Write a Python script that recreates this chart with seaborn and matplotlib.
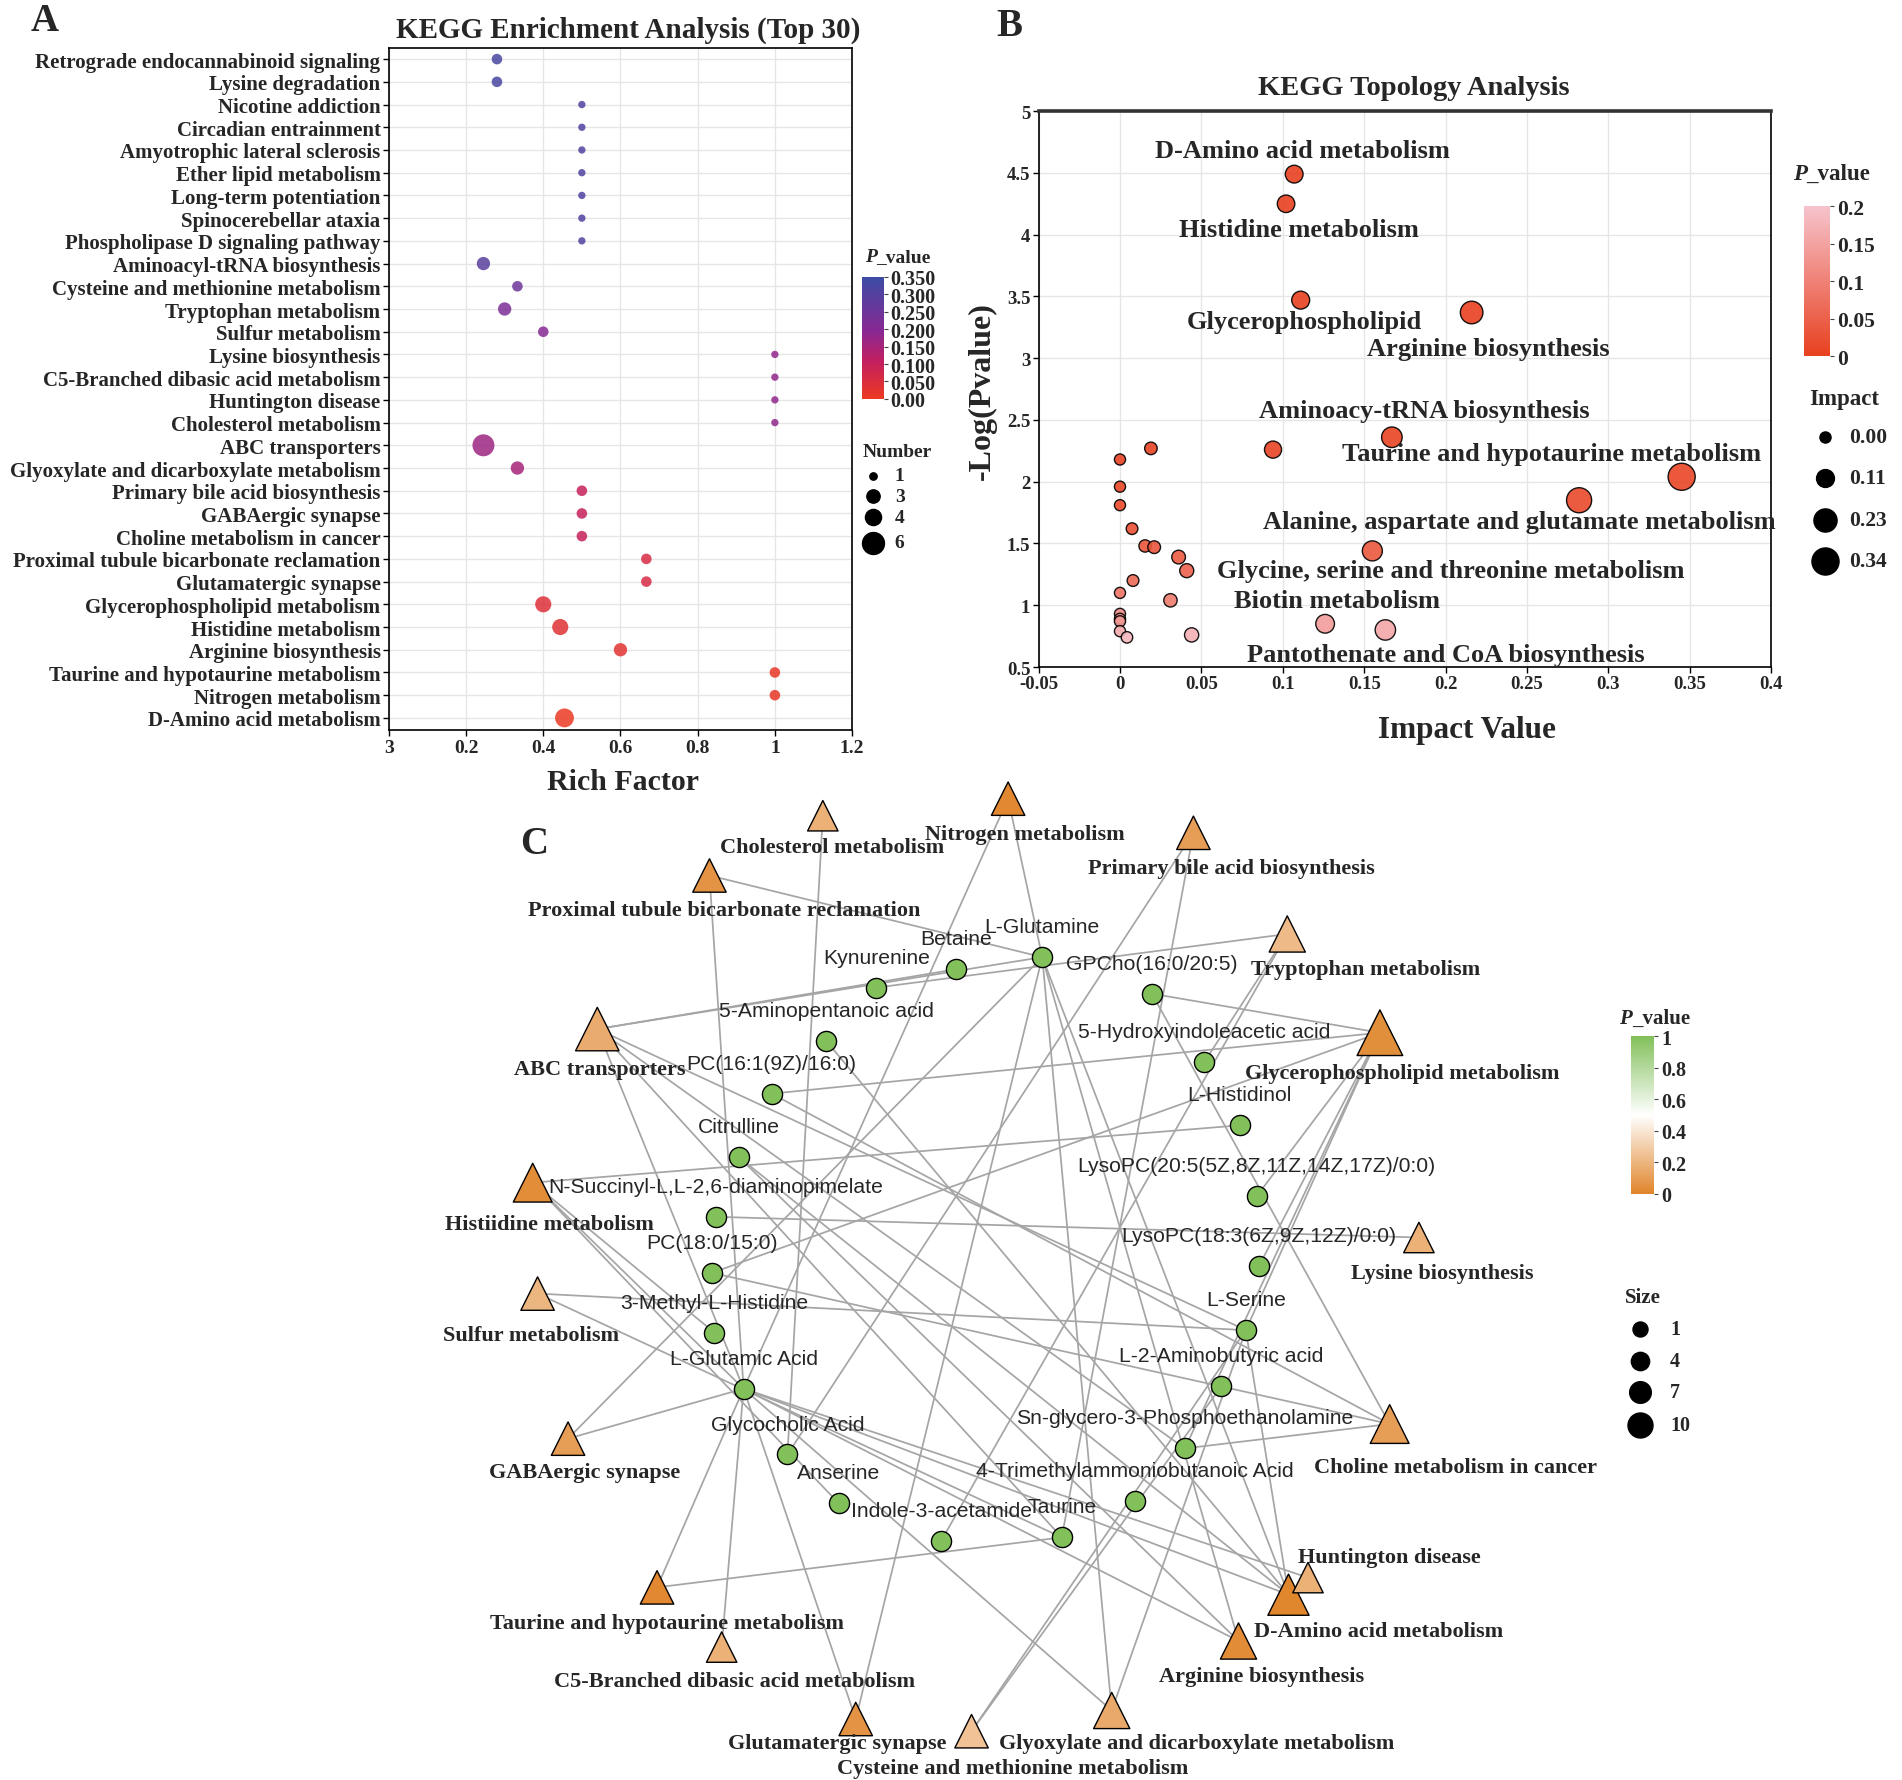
import numpy as np
import pandas as pd
import seaborn as sns
import matplotlib.pyplot as plt
from matplotlib.colors import LinearSegmentedColormap, Normalize
from matplotlib.cm import ScalarMappable

# ---------------- A: KEGG enrichment analysis (top 30), top to bottom ----------------
kegg_pathways = [
    "Retrograde endocannabinoid signaling", "Lysine degradation", "Nicotine addiction",
    "Circadian entrainment", "Amyotrophic lateral sclerosis", "Ether lipid metabolism",
    "Long-term potentiation", "Spinocerebellar ataxia", "Phospholipase D signaling pathway",
    "Aminoacyl-tRNA biosynthesis", "Cysteine and methionine metabolism", "Tryptophan metabolism",
    "Sulfur metabolism", "Lysine biosynthesis", "C5-Branched dibasic acid metabolism",
    "Huntington disease", "Cholesterol metabolism", "ABC transporters",
    "Glyoxylate and dicarboxylate metabolism", "Primary bile acid biosynthesis", "GABAergic synapse",
    "Choline metabolism in cancer", "Proximal tubule bicarbonate reclamation", "Glutamatergic synapse",
    "Glycerophospholipid metabolism", "Histidine metabolism", "Arginine biosynthesis",
    "Taurine and hypotaurine metabolism", "Nitrogen metabolism", "D-Amino acid metabolism",
]
rich_factor = [0.28, 0.28, 0.5, 0.5, 0.5, 0.5, 0.5, 0.5, 0.5,
               0.245, 0.333, 0.30, 0.40, 1.0, 1.0, 1.0, 1.0, 0.245,
               0.333, 0.5, 0.5, 0.5, 0.667, 0.667, 0.40, 0.444, 0.60,
               1.0, 1.0, 0.455]
kegg_pvalue = [0.32, 0.32, 0.31, 0.31, 0.31, 0.31, 0.31, 0.31, 0.31,
               0.29, 0.25, 0.22, 0.20, 0.18, 0.18, 0.18, 0.18, 0.165,
               0.15, 0.10, 0.10, 0.10, 0.06, 0.06, 0.04, 0.035, 0.03,
               0.012, 0.012, 0.005]
kegg_number = [2, 2, 1, 1, 1, 1, 1, 1, 1,
               3, 2, 3, 2, 1, 1, 1, 1, 6,
               3, 2, 2, 2, 2, 2, 4, 4, 3,
               2, 2, 5]
number_levels = [1, 3, 4, 6]
cbar_a_ticks = [0, 0.05, 0.10, 0.15, 0.20, 0.25, 0.30, 0.35]
cbar_a_labels = ["0.00", "0.050", "0.100", "0.150", "0.200", "0.250", "0.300", "0.350"]
rich_ticks = [0, 0.2, 0.4, 0.6, 0.8, 1.0, 1.2]
rich_tick_labels = ["3", "0.2", "0.4", "0.6", "0.8", "1", "1.2"]

# ---------------- B: KEGG topology analysis ----------------
impact = [0.107, 0.102, 0.111, 0.216, 0.167, 0.094, 0.345, 0.282, 0.155, 0.126, 0.163,
          0.019, 0.0, 0.0, 0.0, 0.0074, 0.0154, 0.021, 0.036, 0.041, 0.044,
          0.008, 0.0, 0.031, 0.0, 0.0, 0.0, 0.0, 0.0043]
neg_log_p = [4.49, 4.25, 3.47, 3.37, 2.36, 2.26, 2.04, 1.85, 1.44, 0.85, 0.80,
             2.27, 2.18, 1.96, 1.81, 1.62, 1.48, 1.47, 1.39, 1.28, 0.76,
             1.20, 1.10, 1.04, 0.93, 0.89, 0.87, 0.79, 0.74]
topo_labels = ["D-Amino acid metabolism", "Histidine metabolism", "Glycerophospholipid",
               "Arginine biosynthesis", "Aminoacy-tRNA biosynthesis",
               "Taurine and hypotaurine metabolism", "Alanine, aspartate and glutamate metabolism",
               "Glycine, serine and threonine metabolism", "Biotin metabolism",
               "Pantothenate and CoA biosynthesis"]
impact_levels = [0.00, 0.11, 0.23, 0.34]
impact_ticks = [-0.05, 0, 0.05, 0.1, 0.15, 0.2, 0.25, 0.3, 0.35, 0.4]
impact_tick_labels = ["-0.05", "0", "0.05", "0.1", "0.15", "0.2", "0.25", "0.3", "0.35", "0.4"]
nlp_ticks = [0.5, 1, 1.5, 2, 2.5, 3, 3.5, 4, 4.5, 5]
nlp_tick_labels = ["0.5", "1", "1.5", "2", "2.5", "3", "3.5", "4", "4.5", "5"]
cbar_b_ticks = [0, 0.05, 0.1, 0.15, 0.2]
cbar_b_labels = ["0", "0.05", "0.1", "0.15", "0.2"]

# ---------------- C: pathway - metabolite network ----------------
net_pathways = [
    "Cholesterol metabolism", "Nitrogen metabolism", "Primary bile acid biosynthesis",
    "Proximal tubule bicarbonate reclamation", "Tryptophan metabolism", "ABC transporters",
    "Glycerophospholipid metabolism", "Histiidine metabolism", "Lysine biosynthesis",
    "Sulfur metabolism", "GABAergic synapse", "Choline metabolism in cancer",
    "D-Amino acid metabolism", "Huntington disease", "Taurine and hypotaurine metabolism",
    "Arginine biosynthesis", "C5-Branched dibasic acid metabolism", "Glutamatergic synapse",
    "Cysteine and methionine metabolism", "Glyoxylate and dicarboxylate metabolism",
]
net_pathway_p = [0.18, 0.012, 0.10, 0.06, 0.22, 0.16, 0.04, 0.035, 0.18, 0.20,
                 0.10, 0.10, 0.005, 0.18, 0.012, 0.03, 0.18, 0.06, 0.25, 0.15]
net_metabolites = [
    "L-Glutamine", "Betaine", "Kynurenine", "GPCho(16:0/20:5)", "5-Aminopentanoic acid",
    "5-Hydroxyindoleacetic acid", "PC(16:1(9Z)/16:0)", "L-Histidinol", "Citrulline",
    "N-Succinyl-L,L-2,6-diaminopimelate", "LysoPC(20:5(5Z,8Z,11Z,14Z,17Z)/0:0)", "PC(18:0/15:0)",
    "LysoPC(18:3(6Z,9Z,12Z)/0:0)", "3-Methyl-L-Histidine", "L-Serine", "L-Glutamic Acid",
    "L-2-Aminobutyric acid", "Glycocholic Acid", "Sn-glycero-3-Phosphoethanolamine", "Anserine",
    "4-Trimethylammoniobutanoic Acid", "Indole-3-acetamide", "Taurine",
]
net_metabolite_p = 1.0
links = {
    "L-Glutamine": ["Nitrogen metabolism", "D-Amino acid metabolism", "Glutamatergic synapse",
                    "GABAergic synapse", "Arginine biosynthesis",
                    "Proximal tubule bicarbonate reclamation",
                    "Glyoxylate and dicarboxylate metabolism", "ABC transporters"],
    "L-Glutamic Acid": ["Nitrogen metabolism", "D-Amino acid metabolism", "Glutamatergic synapse",
                        "GABAergic synapse", "Arginine biosynthesis",
                        "Proximal tubule bicarbonate reclamation",
                        "Glyoxylate and dicarboxylate metabolism", "ABC transporters",
                        "Taurine and hypotaurine metabolism", "Histiidine metabolism",
                        "C5-Branched dibasic acid metabolism", "Huntington disease"],
    "Betaine": ["ABC transporters"],
    "Kynurenine": ["Tryptophan metabolism"],
    "GPCho(16:0/20:5)": ["Glycerophospholipid metabolism", "Choline metabolism in cancer"],
    "5-Aminopentanoic acid": ["D-Amino acid metabolism"],
    "5-Hydroxyindoleacetic acid": ["Tryptophan metabolism"],
    "PC(16:1(9Z)/16:0)": ["Glycerophospholipid metabolism", "Choline metabolism in cancer"],
    "L-Histidinol": ["Histiidine metabolism"],
    "Citrulline": ["Arginine biosynthesis", "D-Amino acid metabolism"],
    "N-Succinyl-L,L-2,6-diaminopimelate": ["Lysine biosynthesis"],
    "LysoPC(20:5(5Z,8Z,11Z,14Z,17Z)/0:0)": ["Glycerophospholipid metabolism"],
    "PC(18:0/15:0)": ["Glycerophospholipid metabolism", "Choline metabolism in cancer"],
    "LysoPC(18:3(6Z,9Z,12Z)/0:0)": ["Glycerophospholipid metabolism"],
    "3-Methyl-L-Histidine": ["Histiidine metabolism"],
    "L-Serine": ["D-Amino acid metabolism", "Glycerophospholipid metabolism", "Sulfur metabolism",
                 "Cysteine and methionine metabolism", "Glyoxylate and dicarboxylate metabolism",
                 "ABC transporters"],
    "L-2-Aminobutyric acid": ["Cysteine and methionine metabolism"],
    "Glycocholic Acid": ["Primary bile acid biosynthesis", "Cholesterol metabolism"],
    "Sn-glycero-3-Phosphoethanolamine": ["Glycerophospholipid metabolism",
                                         "Choline metabolism in cancer", "ABC transporters"],
    "Anserine": ["Histiidine metabolism"],
    "Indole-3-acetamide": ["Tryptophan metabolism"],
    "Taurine": ["Taurine and hypotaurine metabolism", "Primary bile acid biosynthesis",
                "Sulfur metabolism", "ABC transporters"],
}
size_levels = [1, 4, 7, 10]
cbar_c_ticks = [0, 0.2, 0.4, 0.6, 0.8, 1]
cbar_c_labels = ["0", "0.2", "0.4", "0.6", "0.8", "1"]

# ---------------- layout (page units, y downwards) ----------------
W, H = 1902, 1781
WD, HD = W / 1.219, H / 1.219

pathway_xy = {
    "Cholesterol metabolism": (675, 670), "Nitrogen metabolism": (827, 656),
    "Primary bile acid biosynthesis": (979, 684), "Proximal tubule bicarbonate reclamation": (582, 719),
    "Tryptophan metabolism": (1056, 767), "ABC transporters": (490, 845),
    "Glycerophospholipid metabolism": (1132, 848), "Histiidine metabolism": (437, 971),
    "Lysine biosynthesis": (1164, 1016), "Sulfur metabolism": (441, 1062),
    "GABAergic synapse": (466, 1181), "Choline metabolism in cancer": (1140, 1169),
    "D-Amino acid metabolism": (1057, 1309), "Huntington disease": (1073, 1295),
    "Taurine and hypotaurine metabolism": (539, 1303), "Arginine biosynthesis": (1016, 1347),
    "C5-Branched dibasic acid metabolism": (592, 1352), "Glutamatergic synapse": (702, 1411),
    "Cysteine and methionine metabolism": (797, 1421),
    "Glyoxylate and dicarboxylate metabolism": (912, 1404),
}
pathway_label_xy = {
    "Cholesterol metabolism": (683, 696), "Nitrogen metabolism": (841, 685),
    "Primary bile acid biosynthesis": (1010, 713), "Proximal tubule bicarbonate reclamation": (594, 747),
    "Tryptophan metabolism": (1120, 796), "ABC transporters": (492, 878),
    "Glycerophospholipid metabolism": (1150, 881), "Histiidine metabolism": (451, 1005),
    "Lysine biosynthesis": (1183, 1045), "Sulfur metabolism": (436, 1096),
    "GABAergic synapse": (480, 1208), "Choline metabolism in cancer": (1194, 1204),
    "D-Amino acid metabolism": (1131, 1339), "Huntington disease": (1140, 1278),
    "Taurine and hypotaurine metabolism": (547, 1332), "Arginine biosynthesis": (1035, 1376),
    "C5-Branched dibasic acid metabolism": (603, 1380), "Glutamatergic synapse": (687, 1431),
    "Cysteine and methionine metabolism": (831, 1451),
    "Glyoxylate and dicarboxylate metabolism": (982, 1431),
}
metabolite_xy = {
    "L-Glutamine": (855, 786), "Betaine": (784, 796), "Kynurenine": (719, 811),
    "GPCho(16:0/20:5)": (945, 816), "5-Aminopentanoic acid": (678, 855),
    "5-Hydroxyindoleacetic acid": (988, 872), "PC(16:1(9Z)/16:0)": (633, 898),
    "L-Histidinol": (1017, 924), "Citrulline": (606, 950),
    "N-Succinyl-L,L-2,6-diaminopimelate": (587, 999),
    "LysoPC(20:5(5Z,8Z,11Z,14Z,17Z)/0:0)": (1031, 982), "PC(18:0/15:0)": (584, 1045),
    "LysoPC(18:3(6Z,9Z,12Z)/0:0)": (1033, 1039), "3-Methyl-L-Histidine": (586, 1094),
    "L-Serine": (1022, 1092), "L-Glutamic Acid": (610, 1140), "L-2-Aminobutyric acid": (1002, 1138),
    "Glycocholic Acid": (646, 1194), "Sn-glycero-3-Phosphoethanolamine": (972, 1189),
    "Anserine": (688, 1234), "4-Trimethylammoniobutanoic Acid": (931, 1232),
    "Indole-3-acetamide": (772, 1265), "Taurine": (871, 1262),
}


def rect(x0, y0, x1, y1):
    return [x0 / WD, 1 - y1 / HD, (x1 - x0) / WD, (y1 - y0) / HD]


sns.set_theme(style="white")
plt.rcParams["font.family"] = ["Liberation Serif", "DejaVu Serif"]
plt.rcParams["font.weight"] = "bold"
plt.rcParams["axes.labelweight"] = "bold"

fig = plt.figure(figsize=(W / 100, H / 100), dpi=100)
ov = fig.add_axes([0, 0, 1, 1])
ov.axis("off")


def pvalue_title(x, y, size):
    ov.text(x, y, "P", style="italic", ha="right", va="center", size=size)
    ov.text(x, y, "_value", ha="left", va="center", size=size)


# ======================= panel A =======================
df_a = pd.DataFrame({"pathway": kegg_pathways, "rich": rich_factor,
                     "p": kegg_pvalue, "number": kegg_number})
df_a["row"] = np.arange(len(df_a))
cmap_a = LinearSegmentedColormap.from_list(
    "enrich", [(0, "#ec3a20"), (0.3, "#c41f5e"), (0.55, "#8a2893"), (1, "#3b4ca4")])
number_sizes = {1: 28, 2: 58, 3: 92, 4: 135, 5: 185, 6: 250}

ax_a = fig.add_axes(rect(319, 40, 699, 600))
sns.scatterplot(data=df_a, x="rich", y="row", hue="p", palette=cmap_a, hue_norm=(0, 0.35),
                size="number", sizes=number_sizes, alpha=0.85, edgecolor="none",
                legend=False, ax=ax_a, zorder=3)
ax_a.set_xlim(0, 1.2)
ax_a.set_ylim(29.55, -0.5)
ax_a.set_yticks(df_a["row"], df_a["pathway"], fontsize=15)
ax_a.set_xticks(rich_ticks, rich_tick_labels, fontsize=14)
ax_a.set_xlabel("")
ax_a.set_ylabel("")
ax_a.grid(True, color="#e6e6e6", lw=1)
ax_a.set_axisbelow(True)
ax_a.tick_params(bottom=True, left=True, direction="out", length=4, width=1, color="black", pad=2)
for s in ax_a.spines.values():
    s.set_color("black")
    s.set_linewidth(1.2)

ov.text(515, 25, "KEGG Enrichment Analysis (Top 30)", ha="center", va="center", size=21)
ov.text(511, 642, "Rich Factor", ha="center", va="center", size=21.5)
ov.text(37, 18, "A", ha="center", va="center", size=28)

cax_a = fig.add_axes(rect(707, 228, 725, 328))
cb_a = fig.colorbar(ScalarMappable(Normalize(0, 0.35), cmap_a), cax=cax_a)
cb_a.outline.set_visible(False)
cb_a.set_ticks(cbar_a_ticks, labels=cbar_a_labels)
cax_a.tick_params(labelsize=14.5, length=3, width=0.8, color="#444", pad=2)
pvalue_title(719, 211, 14)
ov.text(708, 371, "Number", ha="left", va="center", size=14)
for n, yy in zip(number_levels, [391, 408, 425, 446]):
    ov.scatter(716, yy, s=number_sizes[n], color="black", zorder=3)
    ov.text(734, yy, str(n), ha="left", va="center", size=14)

# ======================= panel B =======================
df_b = pd.DataFrame({"impact": impact, "nlp": neg_log_p})
df_b["p"] = 10 ** (-df_b["nlp"])
cmap_b = LinearSegmentedColormap.from_list("topo", ["#e8401f", "#f6c3cc"])

ax_b = fig.add_axes(rect(852, 92, 1453, 548))
sns.scatterplot(data=df_b, x="impact", y="nlp", hue="p", palette=cmap_b, hue_norm=(0, 0.2),
                size="impact", sizes=(64, 380), size_norm=(0, 0.34), edgecolor="black",
                linewidth=1, alpha=0.9, legend=False, ax=ax_b, zorder=3)
ax_b.set_xlim(-0.05, 0.4)
ax_b.set_ylim(0.5, 5)
ax_b.set_xticks(impact_ticks, impact_tick_labels, fontsize=13.5)
ax_b.set_yticks(nlp_ticks, nlp_tick_labels, fontsize=13.5)
ax_b.set_xlabel("")
ax_b.set_ylabel("")
ax_b.grid(True, color="#e6e6e6", lw=1)
ax_b.set_axisbelow(True)
ax_b.tick_params(bottom=True, left=True, direction="out", length=4, width=1, color="black", pad=2)
for s in ax_b.spines.values():
    s.set_color("black")
    s.set_linewidth(1.2)
ax_b.spines["top"].set_linewidth(2.6)
ax_b.spines["top"].set_color("#333333")

topo_label_xy = {
    "D-Amino acid metabolism": (0.112, 4.68), "Histidine metabolism": (0.110, 4.04),
    "Glycerophospholipid": (0.113, 3.30), "Arginine biosynthesis": (0.226, 3.08),
    "Aminoacy-tRNA biosynthesis": (0.187, 2.58),
    "Taurine and hypotaurine metabolism": (0.265, 2.23),
    "Alanine, aspartate and glutamate metabolism": (0.245, 1.68),
    "Glycine, serine and threonine metabolism": (0.203, 1.28),
    "Biotin metabolism": (0.133, 1.04), "Pantothenate and CoA biosynthesis": (0.200, 0.60),
}
for name in topo_labels:
    lx, ly = topo_label_xy[name]
    ax_b.text(lx, ly, name, ha="center", va="center", size=19, zorder=4)

ov.text(1160, 73, "KEGG Topology Analysis", ha="center", va="center", size=20.5)
ov.text(1203, 599, "Impact Value", ha="center", va="center", size=22.5)
ov.text(806, 321, "-Log(Pvalue)", ha="center", va="center", size=23, rotation=90)
ov.text(828, 22, "B", ha="center", va="center", size=28)

cax_b = fig.add_axes(rect(1480, 170, 1501, 293))
cb_b = fig.colorbar(ScalarMappable(Normalize(0, 0.2), cmap_b), cax=cax_b)
cb_b.outline.set_visible(False)
cb_b.set_ticks(cbar_b_ticks, labels=cbar_b_labels)
cax_b.tick_params(labelsize=15.5, length=3, width=0.8, color="#444", pad=2)
pvalue_title(1482, 143, 16.5)
ov.text(1513, 328, "Impact", ha="center", va="center", size=16.5)
imp_sizes = [64 + (380 - 64) * v / 0.34 for v in impact_levels]
for v, sz, yy in zip(impact_levels, imp_sizes, [359, 393, 427, 461]):
    ov.scatter(1497, yy, s=sz, color="black", zorder=3)
    ov.text(1517, yy, f"{v:.2f}", ha="left", va="center", size=15.5)

# ======================= panel C =======================
cmap_c = LinearSegmentedColormap.from_list("net", [(0, "#e0852b"), (0.5, "#ffffff"), (1, "#82c05a")])
pos = {**pathway_xy, **metabolite_xy}
for met, paths in links.items():
    for pw in paths:
        (x1, y1), (x2, y2) = pos[met], pos[pw]
        ov.plot([x1, x2], [y1, y2], color="#a5a5a5", lw=1.25, zorder=1)

degree = {pw: sum(pw in v for v in links.values()) for pw in net_pathways}
df_pw = pd.DataFrame({"name": net_pathways, "p": net_pathway_p})
df_pw["x"] = [pathway_xy[n][0] for n in net_pathways]
df_pw["y"] = [pathway_xy[n][1] for n in net_pathways]
df_pw["deg"] = [degree[n] for n in net_pathways]
tri_sizes = {d: 380 + 100 * d for d in df_pw["deg"].unique()}
sns.scatterplot(data=df_pw, x="x", y="y", hue="p", palette=cmap_c, hue_norm=(0, 1),
                size="deg", sizes=tri_sizes, marker="^", edgecolor="black", linewidth=1,
                legend=False, ax=ov, zorder=3)

df_met = pd.DataFrame({"name": net_metabolites})
df_met["x"] = [metabolite_xy[n][0] for n in net_metabolites]
df_met["y"] = [metabolite_xy[n][1] for n in net_metabolites]
ov.scatter(df_met["x"], df_met["y"], s=210, color=cmap_c(net_metabolite_p),
           edgecolor="black", linewidth=1, zorder=3)

for n in net_pathways:
    lx, ly = pathway_label_xy[n]
    ov.text(lx, ly, n, ha="center", va="center", size=16, zorder=4)
for n in net_metabolites:
    mx, my = metabolite_xy[n]
    ov.text(mx, my - 25, n, ha="center", va="center", size=15.2, zorder=4,
            family=["Liberation Sans", "DejaVu Sans"], weight="normal")

ov.text(438, 693, "C", ha="center", va="center", size=28)

cax_c = fig.add_axes(rect(1338, 851, 1357, 980))
cb_c = fig.colorbar(ScalarMappable(Normalize(0, 1), cmap_c), cax=cax_c)
cb_c.outline.set_visible(False)
cb_c.set_ticks(cbar_c_ticks, labels=cbar_c_labels)
cax_c.tick_params(labelsize=14.5, length=3, width=0.8, color="#444", pad=2)
pvalue_title(1339, 836, 15)
ov.text(1333, 1065, "Size", ha="left", va="center", size=15)
size_marker = [117, 174, 243, 324]
for lv, sz, yy in zip(size_levels, size_marker, [1091, 1117, 1143, 1170]):
    ov.scatter(1345, yy, s=sz, color="black", zorder=3)
    ov.text(1370, yy, str(lv), ha="left", va="center", size=14.5)

ov.set_xlim(0, WD)
ov.set_ylim(HD, 0)
ov.set_xlabel("")
ov.set_ylabel("")

fig.savefig("out.png", dpi=100)
